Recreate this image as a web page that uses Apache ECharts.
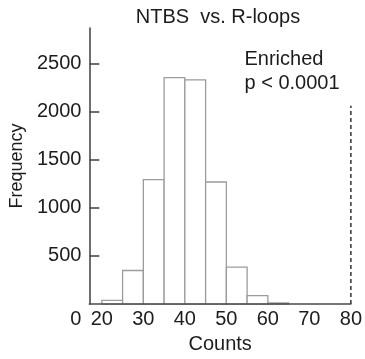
<!DOCTYPE html>
<html>
<head>
<meta charset="utf-8">
<script src="https://cdn.jsdelivr.net/npm/echarts@6/dist/echarts.min.js"></script>
<style>
html,body{margin:0;padding:0;background:#fff;}
#chart{width:365px;height:359px;}
</style>
</head>
<body>
<div id="chart"></div>
<script>
// ---- data ----
const binStarts = [20, 25, 30, 35, 40, 45, 50, 55, 60];
const binEnds = [25, 30, 35, 40, 45, 50, 55, 60, 65];
const frequencies = [38, 349, 1293, 2353, 2329, 1269, 384, 89, 12];
const xTickValues = [17, 20, 30, 40, 50, 60, 70, 80];
const xTickLabels = ['0', '20', '30', '40', '50', '60', '70', '80'];
const yTickValues = [500, 1000, 1500, 2000, 2500];
const yTickLabels = ['500', '1000', '1500', '2000', '2500'];
const thresholdX = [80, 80];
const thresholdY = [0, 2062];
const titleText = 'NTBS  vs. R-loops';
const noteText = 'Enriched\np < 0.0001';
const xName = 'Counts';
const yName = 'Frequency';

const X_MIN = 17, X_MAX = 80, Y_MIN = 0, Y_MAX = 2869;
const FONT = '"Liberation Sans", Arial, sans-serif';
const TXT = '#1c1c1c';
const AX = '#4a4a4a';

const chart = echarts.init(document.getElementById('chart'), null, {renderer: 'canvas'});

const histData = binStarts.map((s, i) => [s, binEnds[i], frequencies[i]]);

chart.setOption({
  animation: false,
  backgroundColor: '#fff',
  grid: {left: 89, right: 12, top: 28, bottom: 51.3, containLabel: false},
  xAxis: {
    type: 'value', min: X_MIN, max: X_MAX, z: 5,
    name: xName, nameLocation: 'middle', nameGap: 28,
    nameTextStyle: {fontFamily: FONT, fontSize: 20, color: TXT},
    axisLine: {show: true, lineStyle: {color: AX, width: 1.6}},
    axisTick: {show: false},
    splitLine: {show: false},
    axisLabel: {
      customValues: xTickValues,
      margin: 5,
      fontFamily: FONT, fontSize: 20, color: TXT,
      formatter: function (v) {
        const i = xTickValues.indexOf(v);
        const t = i >= 0 ? xTickLabels[i] : String(v);
        return i === 0 ? '{zero|' + t + '}' : t;
      },
      rich: {zero: {fontFamily: FONT, fontSize: 20, color: TXT, padding: [0, 27, 0, 0]}}
    }
  },
  yAxis: {
    type: 'value', min: Y_MIN, max: Y_MAX, z: 5,
    name: yName, nameLocation: 'middle', nameGap: 57, nameRotate: 90,
    nameTextStyle: {fontFamily: FONT, fontSize: 18, color: TXT},
    axisLine: {show: true, lineStyle: {color: AX, width: 1.6}},
    axisTick: {show: true, inside: true, length: 10, customValues: yTickValues, lineStyle: {color: AX, width: 1.6}},
    splitLine: {show: false},
    axisLabel: {
      customValues: yTickValues,
      margin: 8,
      fontFamily: FONT, fontSize: 20, color: TXT,
      formatter: function (v) {
        const i = yTickValues.indexOf(v);
        return i >= 0 ? yTickLabels[i] : String(v);
      }
    }
  },
  graphic: [
    {type: 'text', x: 218, y: 17.5, style: {text: titleText, fontFamily: FONT, fontSize: 20, fill: TXT, align: 'center', verticalAlign: 'middle'}},
    {type: 'text', x: 244.5, y: 47, style: {text: noteText, fontFamily: FONT, fontSize: 20, lineHeight: 24, fill: TXT, align: 'left', verticalAlign: 'top'}}
  ],
  series: [
    {
      type: 'custom',
      data: histData,
      encode: {x: [0, 1], y: 2},
      renderItem: function (params, api) {
        const p0 = api.coord([api.value(0), 0]);
        const p1 = api.coord([api.value(1), api.value(2)]);
        return {
          type: 'rect',
          shape: {x: p0[0], y: p1[1], width: p1[0] - p0[0], height: p0[1] - p1[1]},
          style: {fill: '#ffffff', stroke: '#9c9c9c', lineWidth: 1.3}
        };
      }
    },
    {
      type: 'line',
      data: thresholdX.map((x, i) => [x, thresholdY[i]]),
      symbol: 'none',
      z: 6,
      lineStyle: {color: '#333', width: 1.5, type: [4, 3]}
    }
  ]
});
</script>
</body>
</html>
